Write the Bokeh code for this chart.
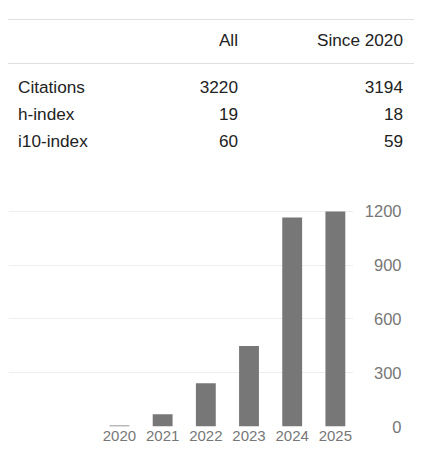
from bokeh.plotting import figure
from bokeh.models import Div, FixedTicker, Range1d
from bokeh.layouts import column, row
from bokeh.embed import file_html
from bokeh.resources import INLINE

# ---- data ----
col_headers = ["All", "Since 2020"]
row_labels = ["Citations", "h-index", "i10-index"]
all_values = [3220, 19, 60]
since_values = [3194, 18, 59]

years = [2020, 2021, 2022, 2023, 2024, 2025]
citations = [6, 68, 241, 449, 1165, 1198]
y_ticks = [0, 300, 600, 900, 1200]

FONT = "'Liberation Sans', Arial, sans-serif"

# ---- stats table (HTML) ----
def cell(text, top, left=None, width=None, align="left"):
    style = (f"position:absolute;top:{top}px;height:20px;line-height:20px;"
             f"white-space:nowrap;text-align:{align};")
    if left is not None:
        style += f"left:{left}px;"
    if width is not None:
        style += f"width:{width}px;"
    return f'<div style="{style}">{text}</div>'

parts = []
parts.append('<div style="position:absolute;top:19px;left:8px;width:406px;height:1px;background:#e0e0e0"></div>')
parts.append('<div style="position:absolute;top:63px;left:8px;width:406px;height:1px;background:#e0e0e0"></div>')
parts.append(cell(col_headers[0], 30, left=8, width=230, align="right"))
parts.append(cell(col_headers[1], 30, left=8, width=395, align="right"))
row_tops = [77, 104, 131]
for lab, a, s, t in zip(row_labels, all_values, since_values, row_tops):
    parts.append(cell(lab, t, left=18))
    parts.append(cell(str(a), t, left=8, width=230, align="right"))
    parts.append(cell(str(s), t, left=8, width=395, align="right"))

html = (f'<div style="position:relative;width:433px;height:190px;font-family:{FONT};'
        f'font-size:17.2px;color:#222222">' + "".join(parts) + "</div>")
table = Div(text=html, width=433, height=190, margin=0)

# ---- bar chart ----
FIG_H, TOP, BOTTOM = 259, 10, 23
yr = Range1d(0, 1260)

p = figure(width=353, height=FIG_H, output_backend="svg", toolbar_location=None,
           x_range=Range1d(2017.43, 2025.42), y_range=yr,
           min_border_left=8, min_border_right=0, min_border_top=TOP, min_border_bottom=BOTTOM)
p.outline_line_color = None
p.background_fill_color = "white"
p.border_fill_color = "white"

p.vbar(x=years, top=citations, width=0.46, fill_color="#777777", line_color=None)

p.xgrid.grid_line_color = None
p.ygrid.ticker = FixedTicker(ticks=y_ticks)
p.ygrid.grid_line_color = "#eeeeee"
p.ygrid.grid_line_width = 1

p.xaxis.ticker = FixedTicker(ticks=years)
p.xaxis.axis_line_color = None
p.xaxis.major_tick_line_color = None
p.xaxis.minor_tick_line_color = None
p.xaxis.major_tick_out = 0
p.xaxis.major_tick_in = 0
p.xaxis.major_label_standoff = 4
p.xaxis.major_label_text_font = FONT
p.xaxis.major_label_text_font_size = "15px"
p.xaxis.major_label_text_color = "#777777"

p.yaxis.ticker = FixedTicker(ticks=y_ticks)
p.yaxis.visible = False

# value axis: a left axis (right-aligned labels) on a narrow strip sharing the y range
p2 = figure(width=80, height=FIG_H, output_backend="svg", toolbar_location=None,
            x_range=Range1d(0, 1), y_range=yr, x_axis_location=None,
            min_border_left=52, min_border_right=0, min_border_top=TOP, min_border_bottom=BOTTOM)
p2.outline_line_color = None
p2.grid.grid_line_color = None
p2.background_fill_color = "white"
p2.border_fill_color = "white"
p2.yaxis.ticker = FixedTicker(ticks=y_ticks)
p2.yaxis.axis_line_color = None
p2.yaxis.major_tick_line_color = None
p2.yaxis.minor_tick_line_color = None
p2.yaxis.major_tick_out = 0
p2.yaxis.major_tick_in = 0
p2.yaxis.major_label_standoff = 4
p2.yaxis.major_label_text_font = FONT
p2.yaxis.major_label_text_font_size = "16.5px"
p2.yaxis.major_label_text_color = "#777777"

layout = column(table, row(p, p2, spacing=0), spacing=0)
open("out.html", "w").write(file_html(layout, INLINE))
